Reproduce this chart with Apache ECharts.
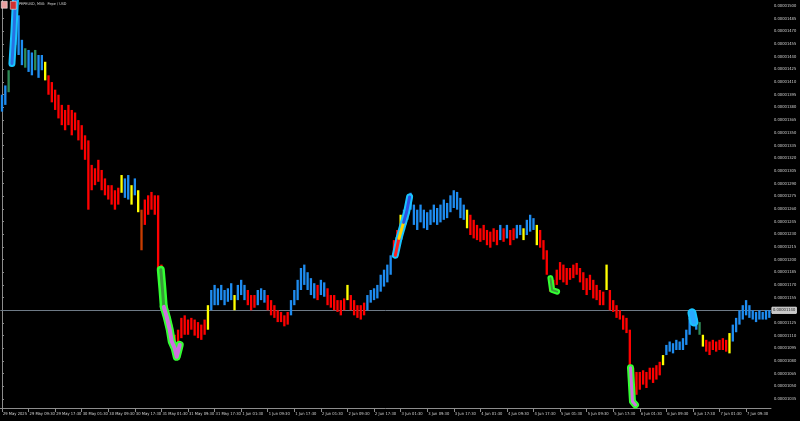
<!DOCTYPE html>
<html><head><meta charset="utf-8">
<script src="https://cdn.jsdelivr.net/npm/echarts@6/dist/echarts.min.js"></script>
<style>html,body{margin:0;padding:0;background:#000}#c{width:800px;height:421px}</style>
</head><body><div id="c"></div>
<script>
// price values are in units of 1e-8 USD (1500 -> 0.00001500); one bar per hour
const tickLabels = ['29 May 2025','29 May 09:30','29 May 17:30','30 May 01:30','30 May 09:30','30 May 17:30','31 May 01:30','31 May 09:30','31 May 17:30','1 Jun 01:30','1 Jun 09:30','1 Jun 17:30','2 Jun 01:30','2 Jun 09:30','2 Jun 17:30','3 Jun 01:30','3 Jun 09:30','3 Jun 17:30','4 Jun 01:30','4 Jun 09:30','4 Jun 17:30','5 Jun 01:30','5 Jun 09:30','5 Jun 17:30','6 Jun 01:30','6 Jun 09:30','6 Jun 17:30','7 Jun 01:30','7 Jun 09:30'];
const barsPerLabel = 8;
const highs = [1395,1406,1424,1460,1510,1489,1460,1450,1448,1445,
1448,1442,1442,1434,1418,1410,1401,1395,1383,1377,
1383,1377,1374,1365,1359,1347,1341,1312,1308,1318,
1306,1296,1288,1288,1282,1285,1300,1296,1300,1288,
1296,1282,1259,1271,1276,1280,1276,1276,1194,1152,
1140,1123,1111,1117,1131,1134,1129,1131,1129,1126,
1123,1129,1146,1164,1170,1166,1170,1164,1166,1172,
1158,1170,1176,1170,1164,1158,1158,1164,1166,1164,
1158,1152,1146,1140,1138,1134,1138,1152,1164,1176,
1190,1194,1185,1178,1172,1170,1176,1173,1166,1158,
1158,1152,1152,1154,1170,1158,1152,1146,1146,1149,
1158,1164,1166,1170,1182,1188,1194,1205,1223,1235,
1253,1259,1271,1279,1265,1259,1265,1259,1256,1259,
1265,1261,1265,1271,1267,1276,1282,1280,1273,1265,
1259,1253,1247,1241,1237,1241,1235,1233,1237,1235,
1241,1237,1241,1235,1237,1241,1241,1237,1247,1253,
1249,1241,1235,1223,1211,1178,1176,1188,1197,1194,
1190,1190,1194,1196,1190,1185,1178,1182,1176,1170,
1164,1162,1194,1164,1152,1146,1140,1134,1131,1117,
1072,1067,1067,1069,1067,1072,1072,1075,1079,1087,
1099,1103,1101,1105,1103,1107,1117,1131,1138,1131,
1126,1111,1105,1103,1105,1103,1105,1107,1105,1113,
1123,1131,1140,1146,1152,1146,1140,1138,1140,1138,
1140,1140];
const lows = [1375,1383,1398,1430,1454,1442,1430,1427,1422,1418,
1424,1415,1424,1412,1395,1386,1377,1367,1359,1353,
1359,1347,1353,1341,1330,1318,1259,1282,1288,1292,
1282,1276,1271,1265,1259,1265,1279,1273,1271,1265,
1276,1256,1211,1241,1253,1259,1253,1188,1146,1129,
1117,1099,1087,1093,1107,1111,1111,1117,1110,1107,
1105,1111,1117,1140,1146,1146,1152,1146,1150,1152,
1140,1152,1158,1152,1146,1140,1143,1146,1152,1149,
1140,1134,1131,1126,1126,1121,1123,1134,1146,1152,
1164,1170,1164,1158,1154,1152,1158,1156,1146,1143,
1140,1138,1134,1140,1152,1140,1134,1131,1129,1134,
1140,1149,1152,1154,1162,1168,1173,1182,1205,1211,
1223,1235,1247,1259,1241,1235,1244,1237,1235,1241,
1244,1241,1244,1247,1249,1256,1261,1259,1249,1247,
1237,1229,1225,1223,1221,1223,1217,1214,1221,1217,
1223,1221,1225,1217,1223,1225,1229,1223,1229,1233,
1235,1217,1214,1200,1182,1162,1162,1170,1176,1173,
1170,1176,1178,1182,1173,1164,1158,1164,1154,1152,
1146,1146,1164,1140,1138,1131,1129,1117,1113,1072,
1028,1040,1046,1052,1048,1058,1054,1058,1063,1075,
1087,1091,1089,1093,1093,1093,1099,1111,1123,1117,
1111,1097,1091,1087,1093,1091,1093,1093,1091,1089,
1103,1114,1123,1129,1134,1131,1129,1126,1129,1129,
1129,1131];
// trend colour of each bar, run-length: [code, count]
const trendRuns = [['b',2],['g',1],['b',4],['g',1],['b',2],['g',1],['b',2],['y',1],['r',22],['y',1],['b',2],['y',1],['b',1],['y',1],['o',1],['r',6],['o',2],['r',11],['y',1],['b',7],['y',1],['b',3],['r',3],['b',3],['r',7],['b',8],['r',1],['b',2],['r',6],['y',1],['r',5],['b',8],['r',2],['y',1],['b',19],['y',1],['r',9],['b',1],['r',1],['b',1],['r',2],['b',2],['y',1],['b',3],['y',1],['r',20],['y',1],['r',16],['y',1],['b',10],['g',1],['y',1],['r',7],['y',1],['b',12]];
const currentPrice = 1140;
const yTicks = [1035,1050,1065,1080,1095,1110,1125,1140,1155,1170,1185,1200,1215,1230,1245,1260,1275,1290,1305,1320,1335,1350,1365,1380,1395,1410,1425,1440,1455,1470,1485,1500];
// highlighted momentum strokes: [barIndex, price]
const hlRally1 = [[3.0,1432],[3.6,1470],[4.1,1512]];
const hlDrop1Top = [[47.8,1188],[48.3,1165],[48.7,1144]];
const hlDrop1Bottom = [[48.7,1144],[49.6,1132],[50.5,1117],[51.1,1103],[52.0,1095],[52.6,1085],[53.5,1099]];
const hlRally2Red = [[118.4,1205],[119.5,1225]];
const hlRally2Yellow = [[119.5,1225],[120.9,1244]];
const hlRally2Blue = [[120.9,1244],[121.8,1256],[122.7,1274]];
const hlHook = [[165.1,1178],[165.6,1164],[167.1,1162]];
const hlDrop2 = [[189.2,1072],[189.8,1032],[190.7,1028]];
const hlBlob = [[207.7,1137],[208.3,1126]];

const trend = [];
trendRuns.forEach(([c,n]) => { for (let k=0;k<n;k++) trend.push(c); });
const N = highs.length;
const cats = highs.map((_, i) => String(i));
const colorMap = {b:'#1e8cf0', r:'#ff0000', y:'#ffff00', g:'#2e8b57', o:'#c83c00'};
const barData = highs.map((h, i) => [i, h, lows[i]]);
const fmt = v => (v * 1e-8).toFixed(8);
const FONT = '"Liberation Sans Narrow", "DejaVu Sans Condensed", sans-serif';

function hl(data, outer, inner, w1, w2) {
  return [
    {type:'line', xAxisIndex:1, data, symbol:'none', silent:true, z:5,
     lineStyle:{color:outer, width:w1, cap:'round', join:'round'}},
    {type:'line', xAxisIndex:1, data, symbol:'none', silent:true, z:6,
     lineStyle:{color:inner, width:w2, cap:'round', join:'round'}}
  ];
}

const chart = echarts.init(document.getElementById('c'), null, {renderer:'canvas'});
chart.setOption({
  backgroundColor:'#000000',
  animation:false,
  grid:{left:-3, right:29, top:0, bottom:13, containLabel:false},
  xAxis:[{
    type:'category', data:cats, boundaryGap:true,
    axisLine:{show:true, lineStyle:{color:'#8c8c8c', width:1}},
    axisTick:{show:true, alignWithLabel:true, length:4, interval:(i)=>i % barsPerLabel === 0, lineStyle:{color:'#8c8c8c'}},
    axisLabel:{show:true, hideOverlap:false, showMinLabel:true, interval:(i)=>i % barsPerLabel === 0, formatter:(v,i)=>tickLabels[i/barsPerLabel] || '',
      color:'#d0d0d0', fontSize:4.1, fontFamily:FONT, align:'left', margin:4, padding:[0,0,0,1]},
    splitLine:{show:false}
  },{
    type:'value', min:-0.5, max:N-0.5, show:false
  }],
  yAxis:{
    type:'value', position:'right', min:1024.35, max:1507.1, scale:true,
    axisLine:{show:true, lineStyle:{color:'#8c8c8c', width:1}},
    axisTick:{show:true, length:2, customValues:yTicks, lineStyle:{color:'#8c8c8c'}},
    axisLabel:{show:true, hideOverlap:false, customValues:yTicks.filter(v=>v!==currentPrice), formatter:fmt, color:'#d0d0d0', fontSize:4.1, fontFamily:FONT, margin:3},
    splitLine:{show:false}
  },
  series:[
    {type:'custom', data:barData, encode:{x:0, y:[1,2]}, z:3, silent:true,
     renderItem:(params, api) => {
       const i = api.value(0);
       const p1 = api.coord([i, api.value(1)]);
       const p2 = api.coord([i, api.value(2)]);
       const w = api.size([1,0])[0] * 0.7;
       return {type:'rect', shape:{x:p1[0]-w/2, y:p1[1], width:w, height:Math.max(1, p2[1]-p1[1])},
               style:{fill:colorMap[trend[i]] || '#1e8cf0'}};
     },
     markLine:{silent:true, symbol:'none', z:1,
       lineStyle:{color:'#6e7a86', width:1, type:'solid'},
       label:{show:true, position:'end', formatter:()=>fmt(currentPrice), color:'#202020', fontSize:4.1, fontFamily:FONT,
              backgroundColor:'#c8c8c8', borderColor:'#ffffff', borderWidth:0.5, padding:[1,1,1,1], distance:1},
       data:[{yAxis:currentPrice}]}
    },
    ...hl(hlRally1, '#19c3ff', '#2a6fe0', 7, 3),
    ...hl(hlDrop1Top, '#33ff33', '#3a9a3a', 8, 3),
    ...hl(hlDrop1Bottom, '#33ff33', '#d070e0', 8, 4),
    ...hl(hlRally2Red, '#19c3ff', '#ff2020', 7, 3),
    ...hl(hlRally2Yellow, '#19c3ff', '#ffd000', 7, 3),
    ...hl(hlRally2Blue, '#19c3ff', '#3050e0', 7, 3),
    ...hl(hlHook, '#33ff33', '#3a9a3a', 6, 2),
    ...hl(hlDrop2, '#33ff33', '#d070e0', 7, 3),
    ...hl(hlBlob, '#19c3ff', '#2aa8ff', 9, 5)
  ],
  graphic:[
    {type:'rect', left:1, top:1, shape:{width:6, height:7}, style:{fill:'#e8a0a0', stroke:'#ffffff', lineWidth:0.5}, z:10},
    {type:'rect', left:10, top:1, shape:{width:6, height:8}, style:{fill:'#d03030', stroke:'#ffffff', lineWidth:0.5}, z:10},
    {type:'text', left:19, top:2, style:{text:'PEPEUSD, M30:  Pepe / USD', fill:'#d8d8d8', fontSize:3.8, fontFamily:FONT}, z:10}
  ]
});
</script></body></html>
